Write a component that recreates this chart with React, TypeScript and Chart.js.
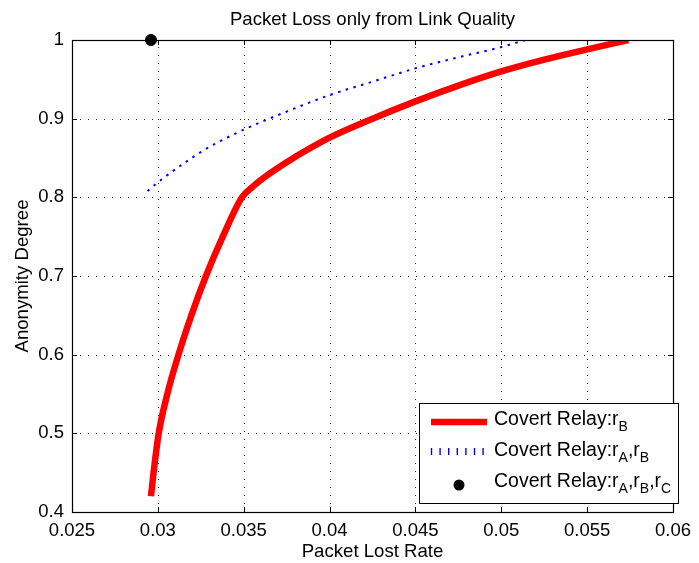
import React, { useEffect, useRef } from 'react';
import { Chart, registerables } from 'chart.js';

Chart.register(...registerables);

// ---- data ----
const relayBX = [0.02960, 0.02975, 0.03005, 0.03055, 0.03120, 0.03195, 0.03280, 0.03378, 0.03490, 0.03550, 0.0365, 0.0376, 0.0385, 0.0400, 0.0425, 0.0450, 0.0475, 0.0500, 0.0525, 0.0550, 0.0574];
const relayBY = [0.42, 0.45, 0.50, 0.55, 0.60, 0.65, 0.70, 0.75, 0.80, 0.813, 0.830, 0.846, 0.858, 0.876, 0.900, 0.922, 0.942, 0.960, 0.975, 0.988, 1.0];
const relayABX = [0.0294, 0.0300, 0.0315, 0.0330, 0.0350, 0.0375, 0.0400, 0.0425, 0.0450, 0.0475, 0.0500, 0.0514];
const relayABY = [0.808, 0.819, 0.843, 0.864, 0.886, 0.909, 0.930, 0.947, 0.964, 0.978, 0.991, 1.0];
const relayABCX = [0.0296];
const relayABCY = [1.0];

const xTickValues = [0.025, 0.03, 0.035, 0.04, 0.045, 0.05, 0.055, 0.06];
const yTickValues = [0.4, 0.5, 0.6, 0.7, 0.8, 0.9, 1.0];

const titleText = 'Packet Loss only from Link Quality';
const xTitleText = 'Packet Lost Rate';
const yTitleText = 'Anonymity Degree';

const legendLabels = [
  [{ t: 'Covert Relay:r' }, { t: 'B', sub: true }],
  [{ t: 'Covert Relay:r' }, { t: 'A', sub: true }, { t: ',r' }, { t: 'B', sub: true }],
  [{ t: 'Covert Relay:r' }, { t: 'A', sub: true }, { t: ',r' }, { t: 'B', sub: true }, { t: ',r' }, { t: 'C', sub: true }],
];

const FONT = '"Liberation Sans", Arial, Helvetica, sans-serif';
const RED = '#ff0000';
const BLUE = '#0000ff';

const toPts = (xs: number[], ys: number[]) => xs.map((x, i) => ({ x, y: ys[i] }));

const fmt = (v: number) => String(parseFloat(Number(v).toFixed(4)));

const decorPlugin = {
  id: 'decor',
  beforeDatasetsDraw(chart: any) {
    const { ctx, chartArea: a, scales } = chart;
    const xs = scales.x;
    const ys = scales.y;
    ctx.save();
    ctx.strokeStyle = 'rgba(0,0,0,0.85)';
    ctx.lineWidth = 1;
    ctx.setLineDash([1, 7]);
    xTickValues.forEach((v) => {
      const px = Math.round(xs.getPixelForValue(v)) + 0.5;
      if (px <= a.left + 1 || px >= a.right - 1) return;
      ctx.beginPath();
      ctx.moveTo(px, a.bottom);
      ctx.lineTo(px, a.top);
      ctx.stroke();
    });
    yTickValues.forEach((v) => {
      const py = Math.round(ys.getPixelForValue(v)) + 0.5;
      if (py <= a.top + 1 || py >= a.bottom - 1) return;
      ctx.beginPath();
      ctx.moveTo(a.left, py);
      ctx.lineTo(a.right, py);
      ctx.stroke();
    });
    ctx.restore();
  },
  afterDatasetsDraw(chart: any) {
    const { ctx, chartArea: a, scales } = chart;
    const xs = scales.x;
    const ys = scales.y;
    ctx.save();
    ctx.setLineDash([]);
    // box
    ctx.strokeStyle = '#000';
    ctx.lineWidth = 1.2;
    ctx.strokeRect(Math.round(a.left) + 0.5, Math.round(a.top) + 0.5, Math.round(a.right - a.left), Math.round(a.bottom - a.top));
    // inward ticks on all sides
    const tl = 5;
    ctx.lineWidth = 1;
    xTickValues.forEach((v) => {
      const px = Math.round(xs.getPixelForValue(v)) + 0.5;
      ctx.beginPath();
      ctx.moveTo(px, a.bottom);
      ctx.lineTo(px, a.bottom - tl);
      ctx.moveTo(px, a.top);
      ctx.lineTo(px, a.top + tl);
      ctx.stroke();
    });
    yTickValues.forEach((v) => {
      const py = Math.round(ys.getPixelForValue(v)) + 0.5;
      ctx.beginPath();
      ctx.moveTo(a.left, py);
      ctx.lineTo(a.left + tl, py);
      ctx.moveTo(a.right, py);
      ctx.lineTo(a.right - tl, py);
      ctx.stroke();
    });

    // titles
    ctx.fillStyle = '#000';
    ctx.font = `18.6px ${FONT}`;
    ctx.textAlign = 'center';
    ctx.textBaseline = 'alphabetic';
    const cx = (a.left + a.right) / 2;
    ctx.fillText(titleText, cx, 25);
    ctx.fillText(xTitleText, cx, 557);
    ctx.save();
    ctx.translate(28, (a.top + a.bottom) / 2);
    ctx.rotate(-Math.PI / 2);
    ctx.fillText(yTitleText, 0, 0);
    ctx.restore();

    // legend
    const lx = 419, ly = 403, lw = 259, lh = 100;
    ctx.fillStyle = '#fff';
    ctx.fillRect(lx, ly, lw, lh);
    ctx.strokeStyle = '#000';
    ctx.lineWidth = 1;
    ctx.strokeRect(lx + 0.5, ly + 0.5, lw, lh);

    const baselines = [425, 456, 487];
    // red sample
    ctx.strokeStyle = RED;
    ctx.lineWidth = 6.5;
    ctx.beginPath();
    ctx.moveTo(431, 422);
    ctx.lineTo(487, 422);
    ctx.stroke();
    // blue sample (ticks)
    ctx.strokeStyle = BLUE;
    ctx.lineWidth = 1.4;
    for (let i = 0; i < 7; i++) {
      const px = 431.5 + i * 8.6;
      ctx.beginPath();
      ctx.moveTo(px, 448);
      ctx.lineTo(px, 455);
      ctx.stroke();
    }
    // black dot
    ctx.fillStyle = '#000';
    ctx.beginPath();
    ctx.arc(459, 485, 5.5, 0, Math.PI * 2);
    ctx.fill();

    ctx.textAlign = 'left';
    ctx.textBaseline = 'alphabetic';
    legendLabels.forEach((parts, i) => {
      let x = 494;
      const b = baselines[i];
      parts.forEach((p: any) => {
        if (p.sub) {
          ctx.font = `14px ${FONT}`;
          ctx.fillText(p.t, x, b + 6);
        } else {
          ctx.font = `19.5px ${FONT}`;
          ctx.fillText(p.t, x, b);
        }
        x += ctx.measureText(p.t).width;
      });
    });
    ctx.restore();
  },
};

export default function App() {
  const ref = useRef<HTMLCanvasElement | null>(null);
  useEffect(() => {
    document.body.style.margin = '0';
    const canvas = ref.current;
    if (!canvas) return;
    const chart = new Chart(canvas, {
      type: 'scatter',
      data: {
        datasets: [
          {
            label: 'rB',
            data: toPts(relayBX, relayBY),
            showLine: true,
            borderColor: RED,
            backgroundColor: RED,
            borderWidth: 6.5,
            pointRadius: 0,
            cubicInterpolationMode: 'monotone',
            borderCapStyle: 'butt',
            borderJoinStyle: 'round',
          } as any,
          {
            label: 'rArB',
            data: toPts(relayABX, relayABY),
            showLine: true,
            borderColor: BLUE,
            backgroundColor: BLUE,
            borderWidth: 2,
            borderDash: [2.5, 5.5],
            pointRadius: 0,
            cubicInterpolationMode: 'monotone',
          } as any,
          {
            label: 'rArBrC',
            data: toPts(relayABCX, relayABCY),
            showLine: false,
            pointRadius: 5.5,
            pointBackgroundColor: '#000',
            pointBorderColor: '#000',
            clip: false,
          } as any,
        ],
      },
      options: {
        responsive: false,
        animation: false,
        layout: { padding: { top: 40, right: 20, left: 0, bottom: 0 } },
        plugins: {
          legend: { display: false },
          title: { display: false },
          tooltip: { enabled: false },
        },
        scales: {
          x: {
            type: 'linear',
            min: 0.025,
            max: 0.06,
            grid: { display: false, drawTicks: false },
            border: { display: false },
            afterBuildTicks: (s: any) => {
              s.ticks = xTickValues.map((v) => ({ value: v }));
            },
            afterFit: (s: any) => {
              s.height = 51;
            },
            ticks: {
              color: '#000',
              font: { family: FONT, size: 18.5 },
              padding: 8,
              maxRotation: 0,
              autoSkip: false,
              callback: (v: any) => fmt(v),
            },
          },
          y: {
            type: 'linear',
            min: 0.4,
            max: 1.0,
            grid: { display: false, drawTicks: false },
            border: { display: false },
            afterBuildTicks: (s: any) => {
              s.ticks = yTickValues.map((v) => ({ value: v }));
            },
            afterFit: (s: any) => {
              s.width = 72;
            },
            ticks: {
              color: '#000',
              font: { family: FONT, size: 18.5 },
              padding: 8,
              autoSkip: false,
              callback: (v: any) => fmt(v),
            },
          },
        },
      } as any,
      plugins: [decorPlugin],
    });
    return () => chart.destroy();
  }, []);
  return (
    <div style={{ width: 699, height: 563 }}>
      <canvas ref={ref} width={699} height={563} style={{ display: 'block' }} />
    </div>
  );
}
